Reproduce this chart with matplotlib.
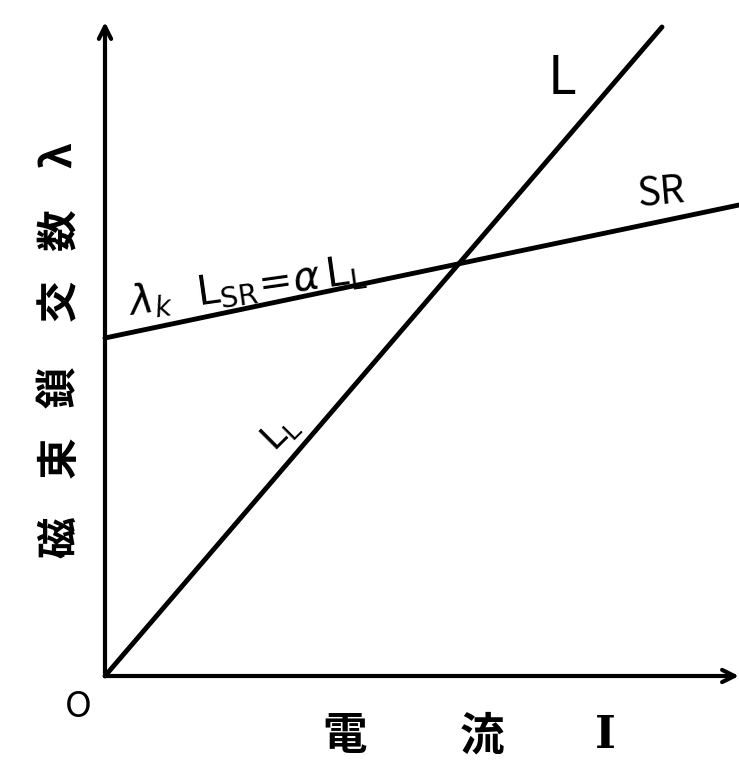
import matplotlib
matplotlib.use("Agg")
import matplotlib.pyplot as plt

plt.rcParams['font.family'] = ['Noto Sans CJK JP', 'DejaVu Sans']
plt.rcParams['mathtext.fontset'] = 'dejavusans'

# current I vs flux linkage lambda, rough units
I_L = [0.0, 5.57]
lam_L = [0.0, 6.49]
I_SR = [0.0, 6.34]
lam_SR = [3.38, 4.71]
x_axis_end = 6.34
y_axis_end = 6.54

x_chars = ["電", "流", "I"]
x_char_pos = [2.40, 3.77, 5.00]
y_chars = ["磁", "束", "鎖", "交", "数", "λ"]
y_char_pos = [1.39, 2.19, 2.89, 3.76, 4.46, 5.21]
text_L = "L"
text_SR = "SR"
text_LL = r"$\mathrm{L_L}$"
text_k = r"$\lambda_k\ \ \mathrm{L_{SR}}\!=\!\alpha\,\mathrm{L_L}$"


def main():
    fig = plt.figure(figsize=(7.39, 7.64), dpi=100)
    ax = fig.add_axes([0, 0, 1, 1])
    ax.set_xlim(-1.05, 6.34)
    ax.set_ylim(-0.88, 6.76)
    ax.axis("off")

    # axes with arrows
    arrow = dict(arrowstyle="->", lw=3, color="black", mutation_scale=22,
                 shrinkA=0, shrinkB=0)
    ax.annotate("", xy=(x_axis_end, 0), xytext=(0, 0), arrowprops=arrow)
    ax.annotate("", xy=(0, y_axis_end), xytext=(0, 0), arrowprops=arrow)

    ax.plot(I_L, lam_L, color="black", lw=3.5, solid_capstyle="round")
    ax.plot(I_SR, lam_SR, color="black", lw=3.5, solid_capstyle="round")

    ax.text(4.57, 5.98, text_L, fontsize=38, ha="center", va="center")
    ax.text(5.56, 4.83, text_SR, fontsize=28, ha="center", va="center",
            rotation=5)
    ax.text(1.75, 2.44, text_LL, fontsize=26, ha="center", va="center",
            rotation=45)
    ax.text(1.42, 3.90, text_k, fontsize=29, ha="center", va="center",
            rotation=8)
    ax.text(-0.27, -0.31, "O", fontsize=26, ha="center", va="center")

    for ch, xp in zip(x_chars, x_char_pos):
        fam = ['DejaVu Serif'] if ch == "I" else None
        ax.text(xp, -0.60, ch, fontsize=32, fontweight="bold",
                ha="center", va="center", family=fam)
    for ch, yp in zip(y_chars, y_char_pos):
        ax.text(-0.45, yp, ch, fontsize=30, fontweight="bold",
                ha="center", va="center", rotation=90)

    fig.savefig("out.png", dpi=100)


if __name__ == "__main__":
    main()
